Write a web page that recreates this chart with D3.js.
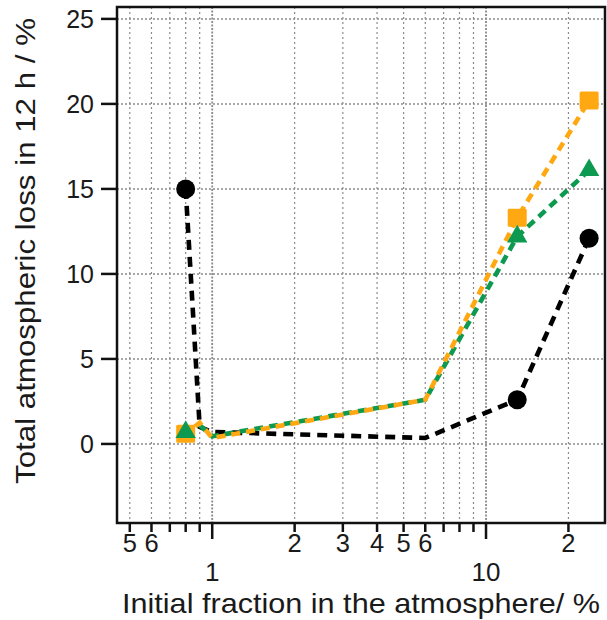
<!DOCTYPE html>
<html>
<head>
<meta charset="utf-8">
<script src="https://cdn.jsdelivr.net/npm/d3@7"></script>
<style>
    body { margin: 0; background: #fff; }
    text { font-family: "Liberation Sans", Arial, sans-serif; fill: #1a1a1a; }
</style>
</head>
<body>
<svg id="chart"></svg>
<script>
// Data (x: initial fraction %, y: total loss %)
var blackX = [0.8, 0.9, 1.0, 6, 13, 23.8];
var blackY = [15.0, 1.0, 0.7, 0.35, 2.6, 12.1];
var orangeX = [0.8, 0.9, 1.0, 6, 13, 23.8];
var orangeY = [0.6, 1.25, 0.35, 2.6, 13.3, 20.2];
var greenX = [0.8, 0.9, 1.0, 6, 13, 23.8];
var greenY = [0.7, 1.1, 0.45, 2.6, 12.2, 16.1];

// Which points carry a marker
var markerIdx = [0, 4, 5];

var yTicks = [0, 5, 10, 15, 20, 25];
var xMinorTicks = [0.5, 0.6, 0.7, 0.8, 0.9, 2, 3, 4, 5, 6, 7, 8, 9, 20];
var xMinorLabels = {0.5: "5", 0.6: "6", 2: "2", 3: "3", 4: "4", 5: "5", 6: "6", 20: "2"};
var xMajorTicks = [1, 10];

var width = 607,
    height = 620,
    margin = {left: 117, right: 2, top: 7, bottom: 97};

var svg = d3.select("#chart")
    .attr("width", width)
    .attr("height", height);

var x = d3.scaleLog()
    .domain([0.449, 27.2])
    .range([margin.left, width - margin.right]);

var y = d3.scaleLinear()
    .domain([-4.65, 25.7])
    .range([height - margin.bottom, margin.top]);

var plotBottom = height - margin.bottom;

// Grid lines
var grid = svg.append("g");
xMinorTicks.forEach(function (t) {
    grid.append("line")
        .attr("x1", x(t)).attr("x2", x(t))
        .attr("y1", margin.top).attr("y2", plotBottom)
        .attr("stroke", "#8a8a8a").attr("stroke-width", 1.2)
        .attr("stroke-dasharray", "2,3");
});
xMajorTicks.forEach(function (t) {
    grid.append("line")
        .attr("x1", x(t)).attr("x2", x(t))
        .attr("y1", margin.top).attr("y2", plotBottom)
        .attr("stroke", "#8a8a8a").attr("stroke-width", 1.8)
        .attr("stroke-dasharray", "2,1.5");
});
yTicks.forEach(function (t) {
    grid.append("line")
        .attr("x1", margin.left).attr("x2", width - margin.right)
        .attr("y1", y(t)).attr("y2", y(t))
        .attr("stroke", "#8a8a8a").attr("stroke-width", 1.5)
        .attr("stroke-dasharray", "2,2");
});

// Lines
var line = d3.line()
    .x(function (d) { return x(d[0]); })
    .y(function (d) { return y(d[1]); });

function zipXY(xs, ys) {
    return xs.map(function (v, i) { return [v, ys[i]]; });
}

svg.append("path")
    .attr("d", line(zipXY(blackX, blackY)))
    .attr("fill", "none")
    .attr("stroke", "#000")
    .attr("stroke-width", 4.6)
    .attr("stroke-dasharray", "10,7");

svg.append("path")
    .attr("d", line(zipXY(greenX, greenY)))
    .attr("fill", "none")
    .attr("stroke", "#0d9a50")
    .attr("stroke-width", 4.6)
    .attr("stroke-dasharray", "9,6");

svg.append("path")
    .attr("d", line(zipXY(orangeX, orangeY)))
    .attr("fill", "none")
    .attr("stroke", "#ffa812")
    .attr("stroke-width", 4.6)
    .attr("stroke-dasharray", "9,6")
    .attr("stroke-dashoffset", 3);

// Markers
markerIdx.forEach(function (i) {
    svg.append("rect")
        .attr("x", x(orangeX[i]) - 9.5)
        .attr("y", y(orangeY[i]) - 9)
        .attr("width", 19).attr("height", 18)
        .attr("rx", 1.5)
        .attr("fill", "#ffa812");
});
markerIdx.forEach(function (i) {
    svg.append("path")
        .attr("transform", "translate(" + x(greenX[i]) + "," + y(greenY[i]) + ")")
        .attr("d", d3.symbol().type(d3.symbolTriangle).size(180)())
        .attr("fill", "#0d9a50");
});
markerIdx.forEach(function (i) {
    svg.append("circle")
        .attr("cx", x(blackX[i]))
        .attr("cy", y(blackY[i]))
        .attr("r", 9.5)
        .attr("fill", "#000");
});

// Frame
svg.append("rect")
    .attr("x", margin.left)
    .attr("y", margin.top)
    .attr("width", width - margin.right - margin.left)
    .attr("height", plotBottom - margin.top)
    .attr("fill", "none")
    .attr("stroke", "#111")
    .attr("stroke-width", 2.5);

// Y axis ticks & labels
yTicks.forEach(function (t) {
    svg.append("line")
        .attr("x1", margin.left - 16).attr("x2", margin.left)
        .attr("y1", y(t)).attr("y2", y(t))
        .attr("stroke", "#111").attr("stroke-width", 2.5);
    svg.append("text")
        .attr("x", margin.left - 23)
        .attr("y", y(t))
        .attr("dy", "0.36em")
        .attr("text-anchor", "end")
        .style("font-size", "25px")
        .text(t);
});

// X axis ticks & labels
xMinorTicks.forEach(function (t) {
    svg.append("line")
        .attr("x1", x(t)).attr("x2", x(t))
        .attr("y1", plotBottom).attr("y2", plotBottom + 9)
        .attr("stroke", "#111").attr("stroke-width", 2.5);
    if (xMinorLabels[t]) {
        svg.append("text")
            .attr("x", x(t))
            .attr("y", plotBottom + 29)
            .attr("text-anchor", "middle")
            .style("font-size", "25.5px")
            .text(xMinorLabels[t]);
    }
});
xMajorTicks.forEach(function (t) {
    svg.append("line")
        .attr("x1", x(t)).attr("x2", x(t))
        .attr("y1", plotBottom).attr("y2", plotBottom + 16)
        .attr("stroke", "#111").attr("stroke-width", 2.5);
    svg.append("text")
        .attr("x", x(t))
        .attr("y", plotBottom + 58)
        .attr("text-anchor", "middle")
        .style("font-size", "26px")
        .text(t);
});

// Axis titles
svg.append("text")
    .attr("x", 361)
    .attr("y", 613)
    .attr("text-anchor", "middle")
    .attr("textLength", 478)
    .attr("lengthAdjust", "spacingAndGlyphs")
    .style("font-size", "28px")
    .text("Initial fraction in the atmosphere/ %");

svg.append("text")
    .attr("transform", "translate(35,251) rotate(-90)")
    .attr("text-anchor", "middle")
    .attr("textLength", 466)
    .attr("lengthAdjust", "spacingAndGlyphs")
    .style("font-size", "28px")
    .text("Total atmospheric loss in 12 h / %");
</script>
</body>
</html>
